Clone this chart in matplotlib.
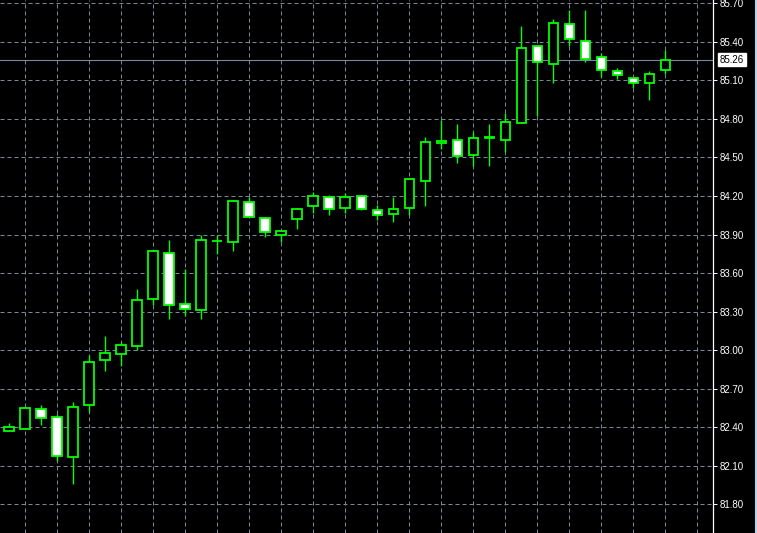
import matplotlib
matplotlib.use('Agg')
import matplotlib.pyplot as plt
from matplotlib.lines import Line2D

# candle data (oldest -> newest)
opens = [82.37, 82.39, 82.54, 82.48, 82.17, 82.57, 82.92, 82.97, 83.03, 83.40,
         83.76, 83.36, 83.31, 83.85, 83.84, 84.15, 84.03, 83.90, 84.02, 84.12,
         84.19, 84.11, 84.20, 84.09, 84.06, 84.11, 84.32, 84.61, 84.64, 84.52,
         84.66, 84.64, 84.77, 85.37, 85.23, 85.54, 85.41, 85.28, 85.17, 85.12,
         85.08, 85.18]
highs = [82.43, 82.55, 82.57, 82.50, 82.60, 82.96, 83.11, 83.06, 83.48, 83.78,
         83.86, 83.63, 83.90, 83.90, 84.17, 84.19, 84.04, 83.93, 84.11, 84.23,
         84.21, 84.22, 84.21, 84.13, 84.19, 84.33, 84.66, 84.79, 84.76, 84.70,
         84.76, 84.85, 85.52, 85.37, 85.58, 85.65, 85.65, 85.31, 85.20, 85.12,
         85.17, 85.34]
lows = [82.37, 82.39, 82.42, 82.14, 81.96, 82.52, 82.84, 82.88, 83.00, 83.35,
        83.24, 83.27, 83.24, 83.75, 83.77, 84.04, 83.88, 83.84, 83.94, 84.07,
        84.05, 84.07, 84.09, 84.01, 84.00, 84.05, 84.12, 84.57, 84.46, 84.43,
        84.43, 84.54, 84.77, 84.82, 85.08, 85.37, 85.24, 85.13, 85.11, 85.04,
        84.95, 85.15]
closes = [82.40, 82.55, 82.47, 82.18, 82.56, 82.91, 82.98, 83.04, 83.39, 83.77,
          83.35, 83.32, 83.86, 83.85, 84.16, 84.04, 83.92, 83.93, 84.10, 84.20,
          84.10, 84.19, 84.10, 84.05, 84.10, 84.33, 84.62, 84.63, 84.51, 84.65,
          84.65, 84.78, 85.35, 85.24, 85.55, 85.42, 85.27, 85.18, 85.14, 85.08,
          85.15, 85.26]

price_ticks = [81.80, 82.10, 82.40, 82.70, 83.00, 83.30, 83.60, 83.90,
               84.20, 84.50, 84.80, 85.10, 85.40, 85.70]
last_price = 85.26

GRID = '#778899'
LIME = '#00ff00'

fig = plt.figure(figsize=(7.57, 5.33), dpi=100, facecolor='black')
ax = fig.add_axes([0, 0, 713 / 757, 1])
ax.set_facecolor('black')

n = len(opens)
x = list(range(n))

# grid (every second candle, every 0.30)
for gx in range(1, n + 2, 2):
    ax.axvline(gx, color=GRID, lw=0.72, ls=(0, (4, 3)), zorder=1)
for gy in price_ticks:
    ax.axhline(gy, color=GRID, lw=0.72, ls=(0, (4, 3)), zorder=1)

# last price line
ax.axhline(last_price, color=GRID, lw=0.8, zorder=2)

# wicks
ax.vlines(x, lows, highs, color=LIME, lw=1.0, zorder=3)

# bodies: bull = black, bear = white
bottoms = [min(o, c) for o, c in zip(opens, closes)]
heights = [abs(c - o) for o, c in zip(opens, closes)]
fills = ['black' if c >= o else 'white' for o, c in zip(opens, closes)]
ax.bar(x, heights, width=0.6, bottom=bottoms, color=fills,
       edgecolor=LIME, linewidth=1.3, zorder=4)

ax.set_xlim(-0.58, 43.98)
ax.set_ylim(81.577, 85.726)

for s in ['top', 'left', 'bottom']:
    ax.spines[s].set_visible(False)
ax.spines['right'].set_color('white')
ax.spines['right'].set_linewidth(0.9)

ax.set_xticks([])
ax.yaxis.tick_right()
ax.set_yticks(price_ticks)
ax.set_yticklabels(['%.2f' % t for t in price_ticks])
ax.tick_params(axis='y', colors='white', length=3, width=0.7, pad=2,
               labelsize=7)
for lab in ax.get_yticklabels():
    lab.set_family('Liberation Sans')

# current price tag
ax.annotate('%.2f' % last_price, xy=(1.0, last_price),
            xycoords=('axes fraction', 'data'), xytext=(5, 0),
            textcoords='offset points', va='center', ha='left',
            fontsize=7, family='Liberation Sans', color='black',
            bbox=dict(boxstyle='square,pad=0.15', fc='white', ec='white'),
            annotation_clip=False)

# window border on the right edge
fig.add_artist(Line2D([0.9985, 0.9985], [0, 1], transform=fig.transFigure,
                      color='#b9d1ea', lw=1.5))

fig.savefig('out.png', dpi=100, facecolor='black')
